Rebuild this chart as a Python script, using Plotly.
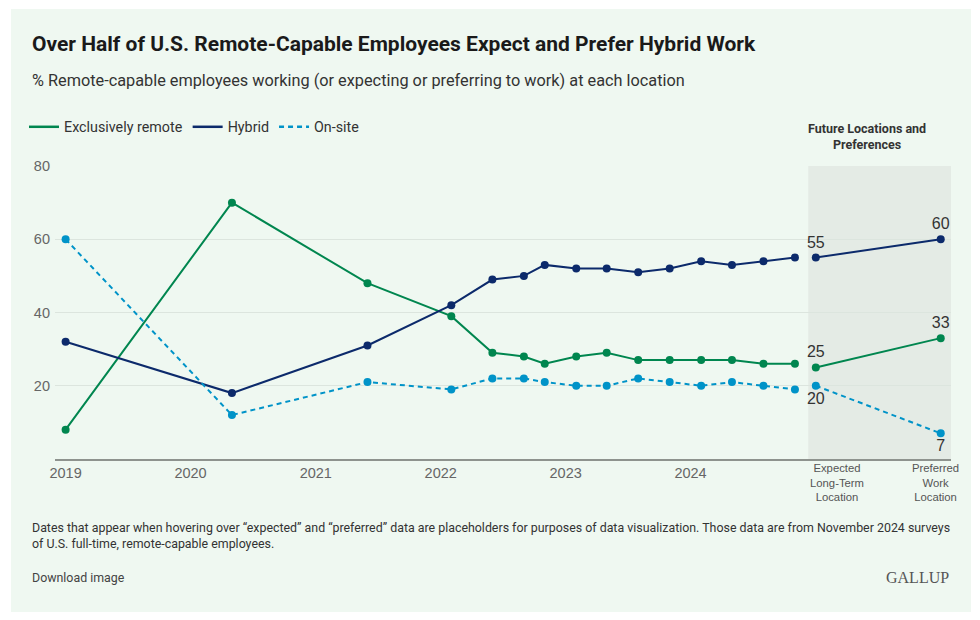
import plotly.graph_objects as go

# ---------------- data ----------------
dates = ["2019-01-01", "2020-05-01", "2021-06-01", "2022-02-01", "2022-06-01",
         "2022-09-01", "2022-11-01", "2023-02-01", "2023-05-01", "2023-08-01",
         "2023-11-01", "2024-02-01", "2024-05-01", "2024-08-01", "2024-11-01"]
remote = [8, 70, 48, 39, 29, 28, 26, 28, 29, 27, 27, 27, 27, 26, 26]
hybrid = [32, 18, 31, 42, 49, 50, 53, 52, 52, 51, 52, 54, 53, 54, 55]
onsite = [60, 12, 21, 19, 22, 22, 21, 20, 20, 22, 21, 20, 21, 20, 19]

future_dates = ["2025-01-01", "2026-01-01"]
future_remote = [25, 33]
future_hybrid = [55, 60]
future_onsite = [20, 7]

year_ticks = ["2019-01-01", "2020-01-01", "2021-01-01", "2022-01-01", "2023-01-01", "2024-01-01"]
year_labels = ["2019", "2020", "2021", "2022", "2023", "2024"]
future_labels = ["Expected<br>Long-Term<br>Location", "Preferred<br>Work<br>Location"]
future_label_x = ["2025-03-03", "2025-12-16"]

series_names = ["Exclusively remote", "Hybrid", "On-site"]

# ---------------- style ----------------
GREEN = "#00864f"
NAVY = "#0c2a6b"
BLUE = "#0093c8"
PANEL = "#eff8f1"
SHADE = "#e4ebe5"
FONT = "Roboto"
NUMFONT = "Liberation Sans"

OFF = 8  # page body margin
W, H = 964, 604
L, R, T, B = 47, 21, 158, 153
pw, ph = W - L - R, H - T - B


def px(x):
    """screen x -> paper x"""
    return (x - OFF - L) / pw


def py(y):
    """screen y -> paper y"""
    return (H - B - (y - OFF)) / ph


fig = go.Figure()

styles = [(GREEN, "solid"), (NAVY, "solid"), (BLUE, "5px,4px")]
past = [remote, hybrid, onsite]
future = [future_remote, future_hybrid, future_onsite]
text_pos = ["top center", "top center", "bottom center"]

# legend-only entries
for name, (c, d) in zip(series_names, styles):
    fig.add_trace(go.Scatter(x=[None], y=[None], mode="lines", name=name,
                             line=dict(color=c, width=2.5, dash=d),
                             legendgroup=name, showlegend=True, hoverinfo="skip"))

for name, (c, d), vals, fvals, tp in zip(series_names, styles, past, future, text_pos):
    fig.add_trace(go.Scatter(x=dates, y=vals, mode="lines+markers", name=name,
                             line=dict(color=c, width=2, dash=d),
                             marker=dict(color=c, size=8),
                             legendgroup=name, showlegend=False))
    fig.add_trace(go.Scatter(x=future_dates, y=fvals, mode="lines+markers+text", name=name,
                             line=dict(color=c, width=2, dash=d),
                             marker=dict(color=c, size=8),
                             text=[str(v) for v in fvals], textposition=tp,
                             textfont=dict(family=NUMFONT, size=16, color="#333333"),
                             legendgroup=name, showlegend=False, cliponaxis=False))

shapes = [
    dict(type="rect", xref="paper", yref="paper", x0=px(11), x1=px(971), y0=py(612), y1=py(9),
         fillcolor=PANEL, line=dict(width=0), layer="below"),
    dict(type="rect", xref="x", yref="paper", x0="2024-12-10", x1="2026-01-31", y0=0, y1=1,
         fillcolor=SHADE, line=dict(width=0), layer="below"),
]

annotations = [
    dict(text="<b>Over Half of U.S. Remote-Capable Employees Expect and Prefer Hybrid Work</b>",
         xref="paper", yref="paper", x=px(30), y=py(44), xanchor="left", yanchor="middle",
         showarrow=False, font=dict(family=FONT, size=21, color="#1a1a1a")),
    dict(text="% Remote-capable employees working (or expecting or preferring to work) at each location",
         xref="paper", yref="paper", x=px(30), y=py(81), xanchor="left", yanchor="middle",
         showarrow=False, font=dict(family=FONT, size=16.3, color="#333333")),
    dict(text="<b>Future Locations and<br>Preferences</b>",
         xref="paper", yref="paper", x=px(867), y=py(136), xanchor="center", yanchor="middle",
         showarrow=False, font=dict(family=FONT, size=12.5, color="#333333")),
    dict(text="Dates that appear when hovering over \u201cexpected\u201d and \u201cpreferred\u201d data are placeholders for purposes of data visualization. Those data are from November 2024 surveys<br>of U.S. full-time, remote-capable employees.",
         xref="paper", yref="paper", x=px(30), y=py(535), xanchor="left", yanchor="middle",
         align="left", showarrow=False, font=dict(family=FONT, size=12.4, color="#333333")),
    dict(text="Download image",
         xref="paper", yref="paper", x=px(30), y=py(577), xanchor="left", yanchor="middle",
         showarrow=False, font=dict(family=FONT, size=12.4, color="#444444")),
    dict(text="GALLUP",
         xref="paper", yref="paper", x=px(951), y=py(577), xanchor="right", yanchor="middle",
         showarrow=False, font=dict(family="Liberation Serif", size=16, color="#555555")),
]
for lab, lx, cy in zip(future_labels, future_label_x, [483, 482]):
    annotations.append(dict(text=lab, xref="x", yref="paper", x=lx, y=py(cy),
                            xanchor="center", yanchor="middle", showarrow=False,
                            font=dict(family=NUMFONT, size=11.3, color="#555555")))

fig.update_layout(
    width=W, height=H,
    margin=dict(l=L, r=R, t=T, b=B),
    paper_bgcolor="white",
    plot_bgcolor="rgba(0,0,0,0)",
    shapes=shapes,
    annotations=annotations,
    showlegend=True,
    legend=dict(orientation="h", x=px(24), y=py(127), xanchor="left", yanchor="middle",
                font=dict(family=FONT, size=14.3, color="#333333"),
                bgcolor="rgba(0,0,0,0)", itemwidth=30, traceorder="normal"),
    xaxis=dict(type="date", range=["2018-12-01", "2026-01-31"],
               tickvals=year_ticks, ticktext=year_labels,
               showgrid=False, zeroline=False, showline=True, linecolor="#8e938e", linewidth=2,
               ticks="", tickfont=dict(family=NUMFONT, size=14.5, color="#666666")),
    yaxis=dict(range=[0, 80], tickvals=[20, 40, 60, 80], showgrid=True,
               gridcolor="#dce5de", gridwidth=1, zeroline=False, showline=False, ticks="",
               tickfont=dict(family=NUMFONT, size=14.5, color="#666666"), ticklabelstandoff=4),
    hovermode="closest",
)

fig.write_html("out.html")
